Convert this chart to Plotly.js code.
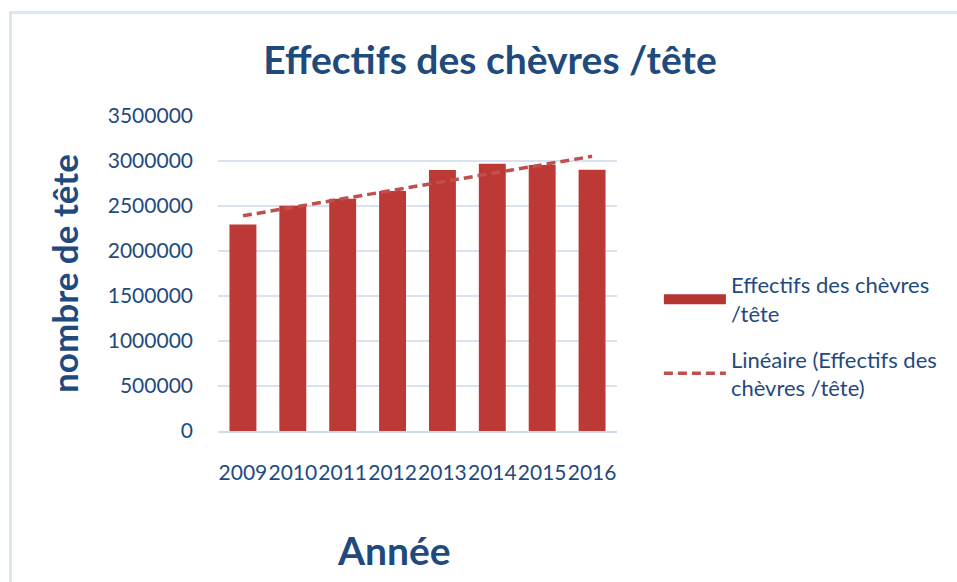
<!DOCTYPE html>
<html>
<head>
<meta charset="utf-8">
<script src="https://cdn.plot.ly/plotly-3.0.1.min.js"></script>
<style>
  html, body { margin: 0; padding: 0; background: #ffffff; }
  #frame { position: absolute; left: 9px; top: 11px; width: 960px; height: 580px;
           border-left: 3px solid #dce6f2; border-top: 3px solid #dce6f2; }
  #chart { position: absolute; left: 0; top: 0; width: 957px; height: 582px; }
</style>
</head>
<body>
<div id="frame"></div>
<div id="chart"></div>
<script>
// Data
const years = ["2009", "2010", "2011", "2012", "2013", "2014", "2015", "2016"];
const effectifs = [2295000, 2503000, 2580000, 2667000, 2900000, 2970000, 2956000, 2903000];
const yTicks = [0, 500000, 1000000, 1500000, 2000000, 2500000, 3000000, 3500000];

// Linear trend (least squares fit of the series, as in the spreadsheet)
const n = effectifs.length;
const xs = effectifs.map((_, i) => i);
const mx = xs.reduce((a, b) => a + b, 0) / n;
const my = effectifs.reduce((a, b) => a + b, 0) / n;
let sxy = 0, sxx = 0;
for (let i = 0; i < n; i++) { sxy += (xs[i] - mx) * (effectifs[i] - my); sxx += (xs[i] - mx) ** 2; }
const slope = sxy / sxx, icpt = my - slope * mx;
const trend = xs.map(x => icpt + slope * x);

const blue = "#1f4a7e";
const font = "Lato, 'Open Sans', sans-serif";

const traces = [
  {
    type: "bar", x: years, y: effectifs, name: "Effectifs des chèvres<br>/tête",
    marker: { color: "#bd3936" }, width: 0.54, showlegend: false, hoverinfo: "x+y"
  },
  {
    type: "scatter", mode: "lines", x: [null], y: [null],
    name: "Effectifs des chèvres<br>/tête", legendgroup: "a",
    line: { color: "#b53533", width: 13 }, showlegend: true
  },
  {
    type: "scatter", mode: "lines", x: years, y: trend,
    name: "Linéaire (Effectifs des<br>chèvres /tête)", legendgroup: "b",
    line: { color: "#c0504d", width: 3.5, dash: "9px,5px" }
  }
];

const layout = {
  width: 957, height: 582,
  paper_bgcolor: "rgba(0,0,0,0)", plot_bgcolor: "rgba(0,0,0,0)",
  margin: { l: 218, r: 340, t: 116, b: 151 },
  font: { family: font, color: blue },
  title: {
    text: "<b>Effectifs des chèvres /tête</b>",
    font: { family: font, size: 39, color: blue },
    x: 0.512, xanchor: "center", xref: "container",
    y: 0.897, yanchor: "middle", yref: "container"
  },
  xaxis: {
    type: "category", range: [-0.5, 7.5], tickangle: 0,
    showgrid: false, showline: true, linecolor: "#cfdbea", linewidth: 1.5,
    ticks: "", tickfont: { family: font, size: 21, color: blue },
    ticklabelstandoff: 22, fixedrange: true
  },
  yaxis: {
    range: [0, 3500000], tickvals: yTicks, tickformat: "d",
    showgrid: true, gridcolor: "#d9e3f0", gridwidth: 1.2,
    zeroline: false, showline: false, ticks: "",
    tickfont: { family: font, size: 21, color: blue },
    ticklabelstandoff: 24,
    title: { text: "<b>nombre de tête</b>", font: { family: font, size: 35, color: blue }, standoff: 18 },
    fixedrange: true
  },
  legend: {
    x: 1.105, xanchor: "left", y: 0.53, yanchor: "top",
    font: { family: font, size: 22, color: blue },
    itemwidth: 62, tracegroupgap: 14, bgcolor: "rgba(0,0,0,0)"
  },
  annotations: [
    {
      text: "<b>Année</b>", xref: "paper", yref: "paper",
      x: (394 - 218) / 399, y: -(550 - 431) / 315, xanchor: "center", yanchor: "middle",
      showarrow: false, font: { family: font, size: 39, color: blue }
    }
  ],
  bargap: 0.46
};

Plotly.newPlot("chart", traces, layout, { displayModeBar: false, staticPlot: true });
</script>
</body>
</html>
